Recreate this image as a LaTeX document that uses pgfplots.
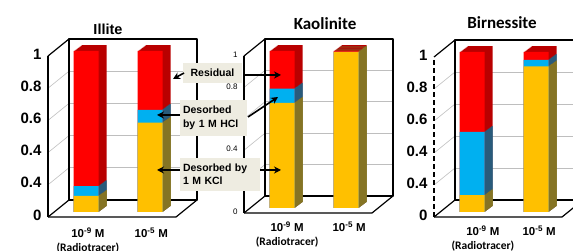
\documentclass[border=0pt]{standalone}
\usepackage{fontspec}
\setmainfont{Liberation Sans}
\newfontfamily\carlito{Carlito}
\usepackage{pgfplots}
\usepackage{pgfplotstable}
\pgfplotsset{compat=1.18}
\usetikzlibrary{arrows.meta}

\definecolor{cRed}{RGB}{255,0,0}
\definecolor{cRedD}{RGB}{185,0,0}
\definecolor{cBlue}{RGB}{0,176,240}
\definecolor{cBlueD}{RGB}{0,118,160}
\definecolor{cOr}{RGB}{255,192,0}
\definecolor{cOrD}{RGB}{172,130,0}
\definecolor{gridc}{RGB}{190,190,190}
\definecolor{boxc}{RGB}{238,236,225}

% fractions: desorbed by KCl, desorbed by HCl, residual
\pgfplotstableread{
x kcl hcl res
0 0.100 0.060 0.840
1 0.555 0.080 0.365
}\illite
\pgfplotstableread{
x kcl hcl res
0 0.670 0.090 0.240
1 0.995 0.000 0.005
}\kaolinite
\pgfplotstableread{
x kcl hcl res
0 0.106 0.394 0.500
1 0.910 0.040 0.050
}\birnessite

\pgfplotsset{
  bb/.style={ybar, bar width=25pt, bar shift=0pt, draw=none},
  panel/.style={scale only axis, width=128pt, xmin=-0.5, xmax=1.5,
    ymin=0, ymax=1, clip=false, anchor=south west,
    axis line style={draw=none}, tick style={draw=none},
    xticklabel style={align=center, font=\fontsize{11.5}{14}\selectfont\bfseries, yshift=-12pt},
  },
}

\newcommand{\drawstack}[1]{%
  \pgfplotsinvokeforeach{8,7,6,5,4,3,2,1}{%
    \addplot[bb, fill=cRedD, xshift=##1*1pt, yshift=##1*0.72pt] table[x=x, y expr=\thisrow{kcl}+\thisrow{hcl}+\thisrow{res}] {#1};
    \addplot[bb, fill=cBlueD, xshift=##1*1pt, yshift=##1*0.72pt] table[x=x, y expr=\thisrow{kcl}+\thisrow{hcl}] {#1};
    \addplot[bb, fill=cOrD, xshift=##1*1pt, yshift=##1*0.72pt] table[x=x, y=kcl] {#1};
  }
  \addplot[bb, fill=cRed] table[x=x, y expr=\thisrow{kcl}+\thisrow{hcl}+\thisrow{res}] {#1};
  \addplot[bb, fill=cBlue] table[x=x, y expr=\thisrow{kcl}+\thisrow{hcl}] {#1};
  \addplot[bb, fill=cOr] table[x=x, y=kcl] {#1};
}

\newcommand{\panelbox}[1]{%
  \pgfplotsinvokeforeach{0.2,0.4,0.6,0.8}{%
    \draw[gridc, line width=0.8pt] ([shift={(15pt,12pt)}]axis cs:-0.5,##1) -- ([shift={(15pt,12pt)}]axis cs:1.5,##1);
    \draw[gridc, line width=0.6pt] ([shift={(-6pt,-5pt)}]axis cs:-0.5,##1) -- ([shift={(15pt,12pt)}]axis cs:-0.5,##1);
  }
  \draw[black, line width=1.2pt, line join=round]
    ([shift={(15pt,12pt)}]axis cs:-0.5,0) -- ([shift={(15pt,12pt)}]axis cs:-0.5,1)
    -- ([shift={(15pt,12pt)}]axis cs:1.5,1) -- ([shift={(15pt,12pt)}]axis cs:1.5,0) -- cycle;
  \draw[black, line width=1.2pt, line join=round]
    ([shift={(-6pt,-5pt)}]axis cs:-0.5,0) -- ([shift={(-6pt,-5pt)}]axis cs:1.5,0)
    -- ([shift={(15pt,12pt)}]axis cs:1.5,0);
  \draw[black, line width=1.2pt, line join=round]
    ([shift={(15pt,12pt)}]axis cs:-0.5,0) -- ([shift={(-6pt,-5pt)}]axis cs:-0.5,0);
  \draw[black, line width=1.2pt, line join=round, #1]
    ([shift={(-6pt,-5pt)}]axis cs:-0.5,0) -- ([shift={(-6pt,-5pt)}]axis cs:-0.5,1);
  \draw[black, line width=1.2pt, line join=round]
    ([shift={(-6pt,-5pt)}]axis cs:-0.5,1) -- ([shift={(15pt,12pt)}]axis cs:-0.5,1);
}

\begin{document}
\begin{tikzpicture}
\path[use as bounding box] (0pt,0pt) rectangle (573pt,251pt);
\clip (0pt,0pt) rectangle (573pt,251pt);

% ---------------- Illite
\begin{axis}[panel, at={(54pt,39pt)}, height=161pt,
  ytick={0,0.2,0.4,0.6,0.8,1}, yticklabels={0,0.4,0.4,0.6,0.8,1},
  yticklabel style={font=\fontsize{15}{15}\selectfont\bfseries, xshift=-9pt, yshift=-3pt},
  xtick={0.03,1.02},
  xticklabels={{10\textsuperscript{-9} M\\{\carlito (Radiotracer)}}, {10\textsuperscript{-5} M}},
  xticklabel style={anchor=north}]
\panelbox{}
\drawstack{\illite}
\end{axis}

% ---------------- Kaolinite
\begin{axis}[panel, at={(250pt,43pt)}, height=157pt,
  ytick={0,0.4,0.8,1}, yticklabels={0,0.4,0.8,1},
  yticklabel style={font=\fontsize{8}{8}\selectfont, xshift=-9pt, yshift=-4pt},
  xtick={0.08,1.05},
  xticklabels={{10\textsuperscript{-9} M\\{\carlito (Radiotracer)}}, {10\textsuperscript{-5} M}},
  xticklabel style={anchor=north, yshift=2pt}]
\panelbox{}
\drawstack{\kaolinite}
\end{axis}

% ---------------- Birnessite
\begin{axis}[panel, at={(440pt,39pt)}, height=160pt,
  ytick={0,0.2,0.4,0.6,0.8,1}, yticklabels={0,0.4,0.4,0.6,0.8,1},
  yticklabel style={font=\fontsize{15}{15}\selectfont\bfseries, xshift=-9pt, yshift=-3pt},
  xtick={0.17,1.05},
  xticklabels={{10\textsuperscript{-9} M\\{\carlito (Radiotracer)}}, {10\textsuperscript{-5} M}},
  xticklabel style={anchor=north, yshift=2pt}]
\panelbox{dash pattern=on 5pt off 3pt}
\drawstack{\birnessite}
\end{axis}

% titles
\node[font=\fontsize{14.5}{15}\selectfont\bfseries] at (108pt,222pt) {Illite};
\node[font=\fontsize{17}{18}\selectfont\carlito\bfseries] at (325pt,227pt) {Kaolinite};
\node[font=\fontsize{17}{18}\selectfont\carlito\bfseries] at (502pt,228pt) {Birnessite};

% annotation boxes
\begin{scope}[every node/.style={fill=boxc, inner sep=0pt, font=\fontsize{10.5}{13.5}\selectfont\bfseries}]
\node[minimum width=59pt, minimum height=20pt] at (212.5pt,178pt) {Residual};
\node[minimum width=67pt, minimum height=36pt, align=left, text width=61pt] at (213.5pt,133pt) {Desorbed\\by 1 M HCl};
\node[minimum width=80pt, minimum height=33pt, align=left, text width=74pt] at (220pt,76.5pt) {Desorbed by\\1 M KCl};
\end{scope}

% arrows
\begin{scope}[line width=1.6pt, -{Stealth[length=7pt,width=7pt]}]
\draw (184pt,178pt) -- (173pt,172pt);
\draw (243pt,176pt) -- (281pt,176pt);
\draw (180pt,136pt) -- (157pt,136pt);
\draw (248pt,134pt) -- (278pt,154pt);
\draw (180pt,81pt) -- (157pt,81pt);
\draw (260pt,81pt) -- (281pt,81pt);
\end{scope}
\end{tikzpicture}
\end{document}
